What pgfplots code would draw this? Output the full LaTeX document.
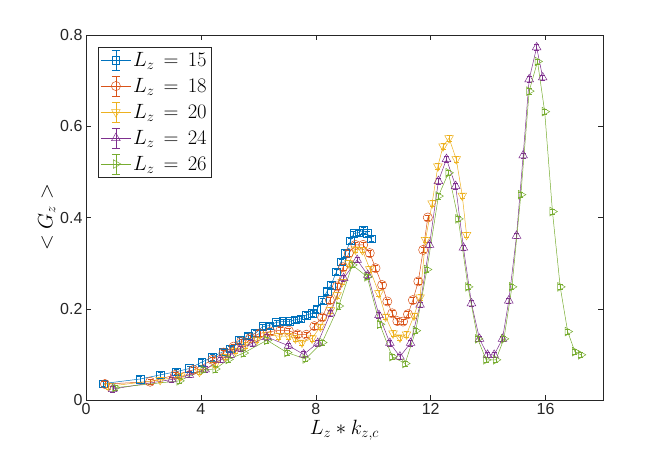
\documentclass[border=0pt]{standalone}
\usepackage{fontspec}
\usepackage{pgfplots}
\pgfplotsset{compat=1.18}
\newfontfamily\ticksf{Liberation Sans}
\definecolor{mblue}{rgb}{0,0.447,0.741}
\definecolor{morange}{rgb}{0.85,0.325,0.098}
\definecolor{myellow}{rgb}{0.929,0.694,0.125}
\definecolor{mpurple}{rgb}{0.494,0.184,0.556}
\definecolor{mgreen}{rgb}{0.466,0.674,0.188}
\definecolor{axgray}{rgb}{0.15,0.15,0.15}
\begin{document}
\begin{tikzpicture}
\useasboundingbox (-86bp,-57bp) rectangle (578bp,400bp);
\begin{axis}[
  scale only axis,
  width=517bp, height=365bp,
  xmin=0, xmax=18, ymin=0, ymax=0.8,
  xtick={0,4,8,12,16},
  ytick={0,0.2,0.4,0.6,0.8},
  yticklabels={0,0.2,0.4,0.6,0.8},
  tick align=inside,
  major tick length=5bp,
  axis line style={draw=axgray, line width=0.5pt},
  every tick/.style={draw=axgray, line width=0.5pt},
  /pgf/number format/assume math mode=true,
  tick label style={font=\fontsize{16bp}{19bp}\ticksf, text=axgray},
  label style={font=\fontsize{19bp}{23bp}\selectfont},
  xlabel={$L_z * k_{z,c}$},
  ylabel={$<G_z>$},
  xlabel style={yshift=2bp},
  ylabel style={yshift=-2bp},
  legend cell align=left,
  legend style={at={(0.023,0.967)}, anchor=north west, draw=axgray,
    line width=0.5pt, fill=white, font=\fontsize{20.5bp}{24bp}\selectfont,
    row sep=5.5bp, inner sep=2.5bp},
  legend image code/.code={
    \draw[#1] (0bp,0bp) -- (30bp,0bp);
    \draw[#1] (15bp,-10bp) -- (15bp,10bp);
    \draw[#1] (11bp,-10bp) -- (19bp,-10bp);
    \draw[#1] (11bp,10bp) -- (19bp,10bp);
    \draw[#1] plot coordinates {(15bp,0bp)};
  },
  every axis plot/.append style={line width=0.5pt},
  error bars/y dir=both, error bars/y fixed=0.006,
  error bars/error mark options={rotate=90, mark size=2.5bp, line width=0.4pt},
]
\addplot+[mblue, mark=square, mark size=3.8bp, mark options={solid, fill=none}] coordinates {
(0.60,0.036) (1.88,0.046) (2.58,0.055) (3.14,0.062) (3.60,0.069) (4.03,0.083)
(4.40,0.094) (4.77,0.106) (5.02,0.112) (5.34,0.131) (5.64,0.141) (5.90,0.146)
(6.15,0.161) (6.38,0.163) (6.62,0.170) (6.85,0.172) (7.08,0.172) (7.29,0.176)
(7.48,0.178) (7.67,0.186) (7.87,0.190) (8.04,0.199) (8.22,0.218) (8.39,0.238)
(8.53,0.252) (8.72,0.281) (8.88,0.303) (9.03,0.322) (9.21,0.349) (9.32,0.365)
(9.50,0.367) (9.65,0.372) (9.79,0.365) (9.93,0.353)
};
\addlegendentry{$L_z\,=\,15$}
\addplot+[morange, mark=o, mark size=4.6bp, mark options={solid, fill=none}] coordinates {
(0.66,0.035) (2.23,0.040) (3.10,0.055) (3.74,0.066) (4.40,0.088) (4.79,0.104)
(5.14,0.117) (5.40,0.128) (5.72,0.136) (6.05,0.146) (6.42,0.150) (6.77,0.153)
(7.06,0.152) (7.37,0.144) (7.67,0.143) (7.95,0.162) (8.22,0.181) (8.49,0.219)
(8.74,0.249) (8.95,0.291) (9.15,0.322) (9.38,0.340) (9.65,0.340) (9.88,0.322)
(10.08,0.289) (10.31,0.252) (10.49,0.216) (10.66,0.190) (10.84,0.173) (11.04,0.172)
(11.21,0.188) (11.38,0.219) (11.57,0.260) (11.74,0.329) (11.90,0.400)
};
\addlegendentry{$L_z\,=\,18$}
\addplot+[myellow, mark=triangle, mark size=5bp, mark options={solid, fill=none, rotate=180}] coordinates {
(0.78,0.030) (2.58,0.044) (3.30,0.052) (3.95,0.062) (4.50,0.078) (4.85,0.095)
(5.20,0.108) (5.55,0.120) (5.95,0.132) (6.30,0.143) (6.71,0.140) (7.06,0.140)
(7.29,0.135) (7.52,0.126) (7.87,0.135) (8.16,0.161) (8.51,0.197) (8.74,0.230)
(8.92,0.259) (9.15,0.300) (9.38,0.330) (9.62,0.329) (9.88,0.287) (10.20,0.234)
(10.43,0.183) (10.69,0.146) (10.93,0.137) (11.16,0.144) (11.42,0.185) (11.63,0.225)
(11.82,0.351) (12.05,0.431) (12.25,0.512) (12.43,0.556) (12.64,0.574) (12.89,0.528)
(13.10,0.448) (13.25,0.362)
};
\addlegendentry{$L_z\,=\,20$}
\addplot+[mpurple, mark=triangle, mark size=5bp, mark options={solid, fill=none}] coordinates {
(0.93,0.024) (2.99,0.045) (3.60,0.055) (4.15,0.067) (4.67,0.088) (5.02,0.099)
(5.37,0.113) (5.78,0.124) (6.30,0.138) (7.05,0.119) (7.58,0.100) (8.07,0.125)
(8.51,0.190) (8.97,0.267) (9.44,0.307) (9.81,0.274) (10.20,0.186) (10.58,0.125)
(10.93,0.095) (11.30,0.125) (11.63,0.209) (11.96,0.340) (12.27,0.480) (12.55,0.528)
(12.87,0.469) (13.14,0.334) (13.42,0.212) (13.70,0.134) (13.98,0.099) (14.21,0.099)
(14.50,0.134) (14.72,0.218) (14.99,0.360) (15.22,0.536) (15.43,0.703) (15.69,0.773)
(15.90,0.707)
};
\addlegendentry{$L_z\,=\,24$}
\addplot+[mgreen, mark=triangle, mark size=5bp, mark options={solid, fill=none, rotate=-90}] coordinates {
(1.01,0.027) (3.25,0.042) (4.09,0.066) (4.50,0.068) (4.96,0.089) (5.49,0.103)
(6.30,0.131) (7.00,0.104) (7.64,0.090) (8.22,0.126) (8.80,0.206) (9.27,0.296)
(9.79,0.270) (10.23,0.166) (10.66,0.095) (11.11,0.080) (11.48,0.152) (11.87,0.286)
(12.27,0.447) (12.62,0.498) (12.96,0.397) (13.30,0.248) (13.64,0.134) (13.93,0.088)
(14.27,0.088) (14.55,0.134) (14.83,0.248) (15.14,0.450) (15.43,0.677) (15.72,0.742)
(15.97,0.632) (16.24,0.413) (16.51,0.248) (16.77,0.150) (17.02,0.106) (17.23,0.099)
};
\addlegendentry{$L_z\,=\,26$}
\end{axis}
\end{tikzpicture}
\end{document}
